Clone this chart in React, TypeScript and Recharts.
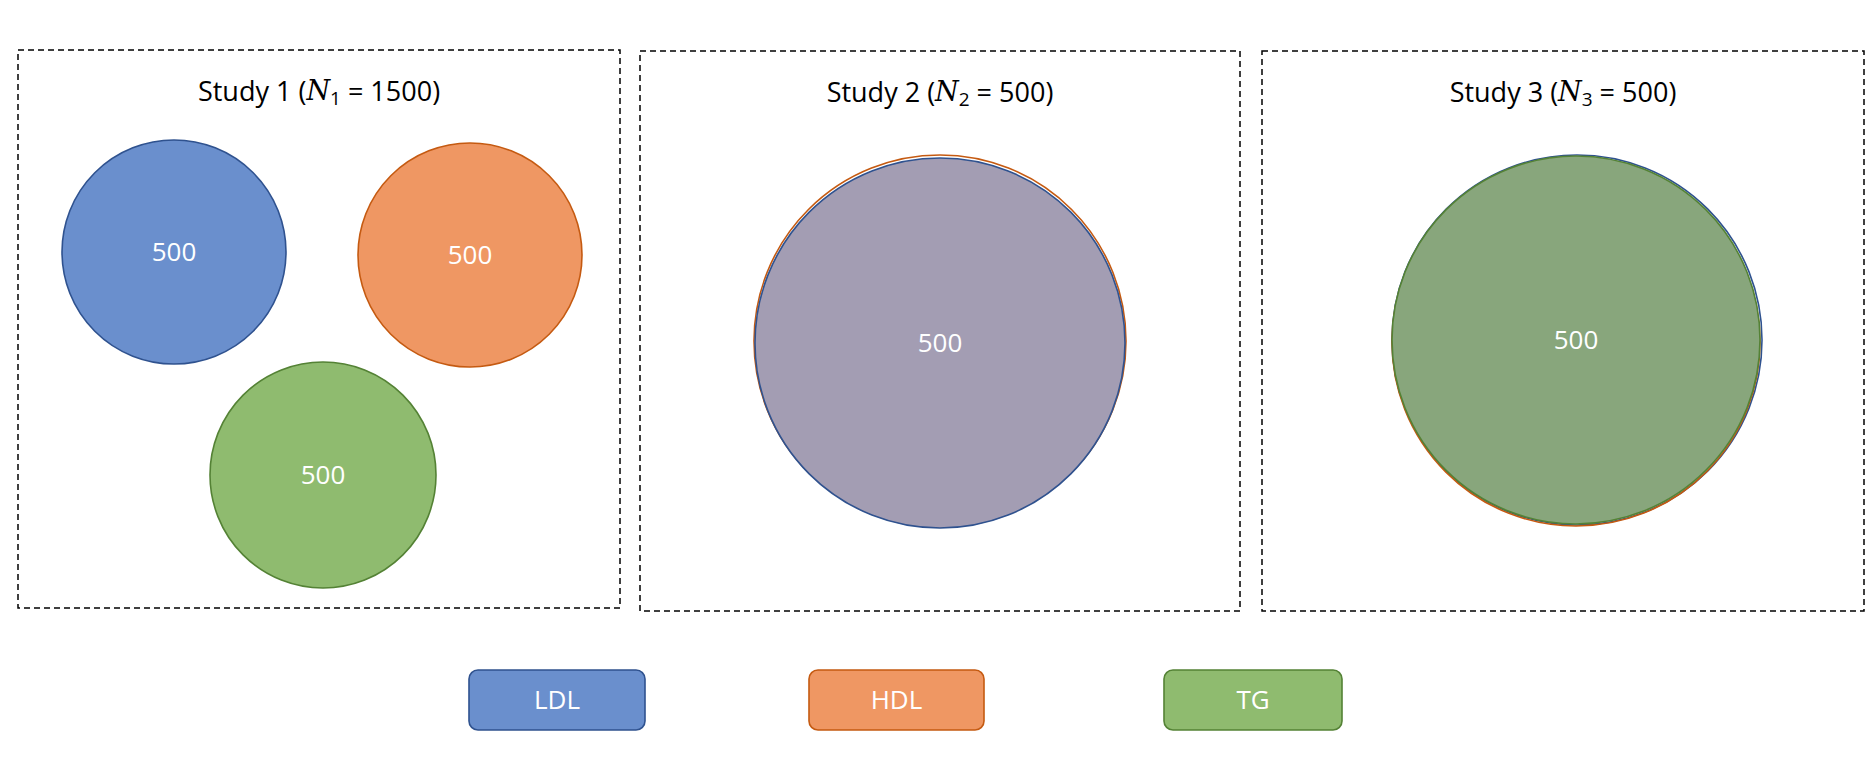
import { ScatterChart, Scatter, XAxis, YAxis, ReferenceArea, LabelList } from "recharts"

// What the picture shows
const studies = ["Study 1", "Study 2", "Study 3"]
const studyN = [1500, 500, 500]
const traits = ["LDL", "HDL", "TG"]
const counts = [500, 500, 500]

// Layout (pixel space of the 1870x766 frame)
const W = 1870
const H = 766
const boxes = [
  { x1: 18, x2: 620, y1: 50, y2: 608 },
  { x1: 640, x2: 1240, y1: 51, y2: 611 },
  { x1: 1262, x2: 1864, y1: 51, y2: 611 },
]
const legendBoxes = [
  { x1: 469, x2: 645 },
  { x1: 809, x2: 984 },
  { x1: 1164, x2: 1342 },
]
const FILL = ["#6a8fcd", "#ef9763", "#8fbb6f"]
const STROKE = ["#2f528f", "#c55a11", "#548235"]

const study1 = [
  { x: 174, y: 252, r: 112, fill: FILL[0], stroke: STROKE[0], count: counts[0] },
  { x: 470, y: 255, r: 112, fill: FILL[1], stroke: STROKE[1], count: counts[1] },
  { x: 323, y: 475, r: 113, fill: FILL[2], stroke: STROKE[2], count: counts[2] },
]
const study2 = [
  { x: 940, y: 341, r: 186, fill: "none", stroke: STROKE[1], count: null },
  { x: 940, y: 343, r: 185, fill: "#a39db3", stroke: STROKE[0], count: counts[0] },
]
const study3 = [
  { x: 1577, y: 340, r: 185, fill: "none", stroke: STROKE[0], count: null },
  { x: 1576, y: 342, r: 184, fill: "none", stroke: STROKE[1], count: null },
  { x: 1576, y: 340, r: 184, fill: "#88a67c", stroke: STROKE[2], count: counts[0] },
]

const FONT = "'Open Sans', 'Noto Sans', sans-serif"

const Bubble = (p: any) => (
  <circle cx={p.cx} cy={p.cy} r={p.payload.r} fill={p.payload.fill} stroke={p.payload.stroke} strokeWidth={1.6} />
)

const title = (i: number) => (props: any) => {
  const vb = props.viewBox
  return (
    <text x={vb.x + vb.width / 2} y={vb.y + 40} textAnchor="middle" dominantBaseline="central" fontFamily={FONT} fontSize={27} fill="#000">
      {studies[i]} (<tspan fontStyle="italic" fontFamily="'DejaVu Serif', serif">N</tspan>
      <tspan fontSize={19} dy={8}>{i + 1}</tspan>
      <tspan dy={-8}> = {studyN[i]})</tspan>
    </text>
  )
}

const RoundBox = (i: number) => (p: any) => (
  <rect x={p.x} y={p.y} width={p.width} height={p.height} rx={9} fill={FILL[i]} stroke={STROKE[i]} strokeWidth={1.6} />
)

export default function App() {
  return (
    <div style={{ position: "absolute", left: 0, top: 0, width: W, height: H, background: "#fff" }}>
      <ScatterChart width={W} height={H} margin={{ top: 0, right: 0, bottom: 0, left: 0 }}>
        <XAxis type="number" dataKey="x" domain={[0, W]} hide />
        <YAxis type="number" dataKey="y" domain={[0, H]} reversed hide />
        {boxes.map((b, i) => (
          <ReferenceArea key={i} {...b} fill="none" stroke="#000" strokeWidth={1.5} strokeDasharray="6 4" ifOverflow="visible" label={{ content: title(i) }} />
        ))}
        {legendBoxes.map((b, i) => (
          <ReferenceArea key={"l" + i} x1={b.x1} x2={b.x2} y1={670} y2={730} ifOverflow="visible" shape={RoundBox(i)}
            label={{ value: traits[i], position: "center", fill: "#fff", fontSize: 26, fontFamily: FONT }} />
        ))}
        {[study1, study2, study3].map((d, i) => (
          <Scatter key={"s" + i} data={d} shape={Bubble} isAnimationActive={false}>
            <LabelList dataKey="count" position="center" fill="#fff" fontSize={26} fontFamily={FONT} />
          </Scatter>
        ))}
      </ScatterChart>
    </div>
  )
}
